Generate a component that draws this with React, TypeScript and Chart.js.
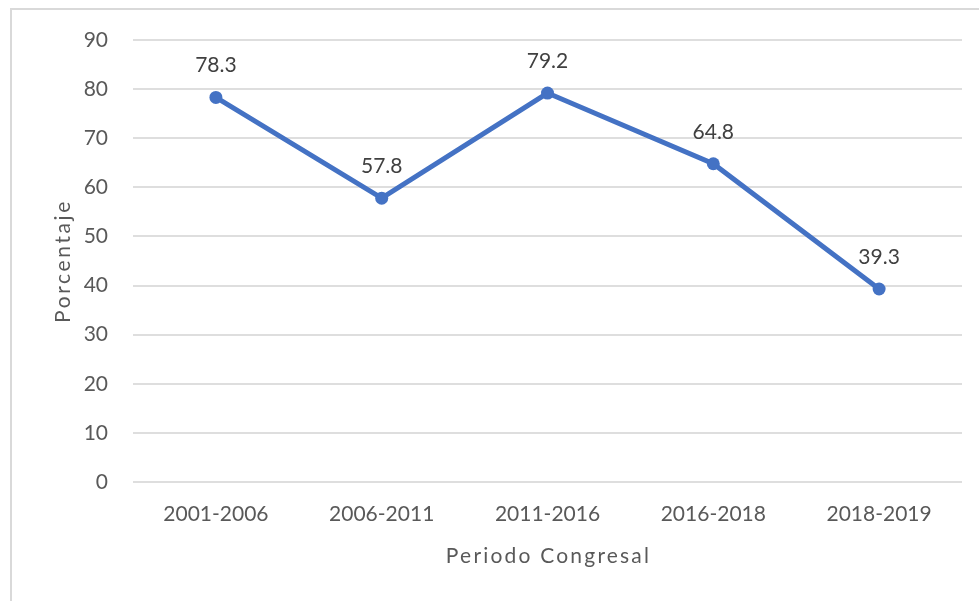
import React, { useEffect, useRef } from "react";
import { Chart, registerables } from "chart.js";

Chart.register(...registerables);

const categories = ["2001-2006", "2006-2011", "2011-2016", "2016-2018", "2018-2019"];
const values = [78.3, 57.8, 79.2, 64.8, 39.3];
const yMin = 0;
const yMax = 90;
const yStep = 10;
const xTitle = "Periodo Congresal";
const yTitle = "Porcentaje";

const FONT = "Lato";
const TEXT = "#595959";

const valueLabels = {
  id: "valueLabels",
  afterDatasetsDraw(chart: any) {
    const ctx = chart.ctx;
    const meta = chart.getDatasetMeta(0);
    ctx.save();
    ctx.font = `21px ${FONT}`;
    ctx.fillStyle = "#404040";
    ctx.textAlign = "center";
    ctx.textBaseline = "middle";
    meta.data.forEach((pt: any, i: number) => {
      ctx.fillText(values[i].toFixed(1), pt.x, pt.y - 32);
    });
    ctx.restore();
  },
};

const axisTitles = {
  id: "axisTitles",
  afterDraw(chart: any) {
    const ctx = chart.ctx;
    const area = chart.chartArea;
    ctx.save();
    ctx.font = `21px ${FONT}`;
    ctx.fillStyle = TEXT;
    ctx.textAlign = "center";
    ctx.textBaseline = "middle";
    (ctx as any).letterSpacing = "2.2px";
    ctx.fillText(xTitle, (area.left + area.right) / 2 + 1, 556);
    ctx.translate(63, 261);
    ctx.rotate(-Math.PI / 2);
    (ctx as any).letterSpacing = "2.6px";
    ctx.fillText(yTitle, 0, 0);
    ctx.restore();
  },
};

export default function App() {
  const ref = useRef<HTMLCanvasElement>(null);
  useEffect(() => {
    if (!ref.current) return;
    const chart = new Chart(ref.current, {
      type: "line",
      data: {
        labels: categories,
        datasets: [
          {
            data: values,
            borderColor: "#4472C4",
            backgroundColor: "#4472C4",
            borderWidth: 5,
            pointRadius: 6.5,
            pointBackgroundColor: "#4472C4",
            pointBorderWidth: 0,
            tension: 0,
          },
        ],
      },
      options: {
        responsive: false,
        animation: false,
        devicePixelRatio: 1,
        layout: { padding: { left: 48, right: 17, top: 40, bottom: 32 } },
        plugins: {
          legend: { display: false },
          tooltip: { enabled: false },
        },
        scales: {
          x: {
            offset: true,
            grid: { display: false, drawTicks: false },
            border: { display: false },
            ticks: { color: TEXT, font: { family: FONT, size: 21 }, padding: 20, maxRotation: 0 },
            afterFit(scale: any) {
              scale.height = 87;
            },
          },
          y: {
            min: yMin,
            max: yMax,
            ticks: { stepSize: yStep, color: TEXT, font: { family: FONT, size: 21 }, padding: 25 },
            grid: { color: "#dedede", lineWidth: 2, drawTicks: false },
            border: { display: false },
            afterFit(scale: any) {
              scale.width = 85;
            },
          },
        },
      },
      plugins: [valueLabels, axisTitles],
    });
    return () => chart.destroy();
  }, []);

  return (
    <div style={{ position: "fixed", left: 0, top: 0, width: 979, height: 601, overflow: "hidden", background: "#fff" }}>
      <div
        style={{
          position: "absolute",
          left: 10,
          top: 8,
          width: 1000,
          height: 700,
          border: "2px solid #d9d9d9",
        }}
      />
      <canvas ref={ref} width={979} height={601} style={{ position: "absolute", left: 0, top: 0 }} />
    </div>
  );
}
